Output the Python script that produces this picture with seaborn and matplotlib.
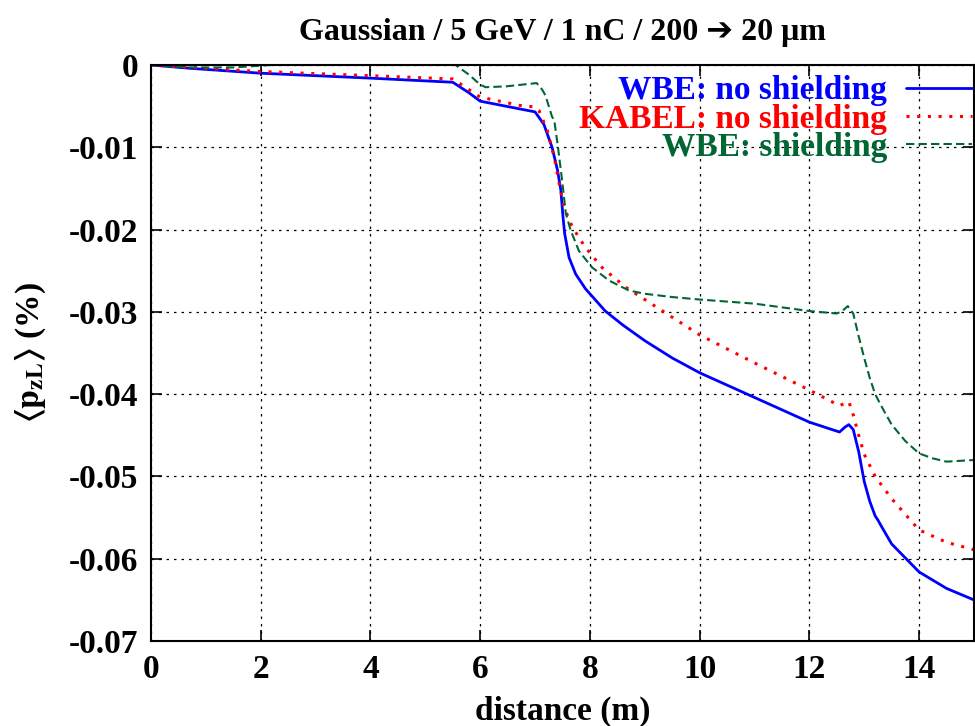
import numpy as np
import pandas as pd
import matplotlib
matplotlib.use('Agg')
import matplotlib.pyplot as plt
import seaborn as sns

# ---- data ----
dist_wbe = [0, 0.7, 2, 4, 5.5, 5.8, 6.0, 7.0, 7.16, 7.31, 7.41, 7.47, 7.51, 7.54, 7.62, 7.74, 7.92, 8.28, 8.6, 9,
            9.5, 10, 11, 12, 12.55, 12.65, 12.72, 12.8, 12.9, 13.0, 13.1, 13.2, 13.25, 13.3, 13.5, 14, 14.5, 15]
pz_wbe = [0, -0.0004, -0.0010, -0.0016, -0.0021, -0.0034, -0.0044, -0.0057, -0.0072, -0.0100, -0.0128, -0.0152,
          -0.0185, -0.0205, -0.0234, -0.0254, -0.0272, -0.0299, -0.0316, -0.0335, -0.0356, -0.0374, -0.0404,
          -0.0434, -0.0446, -0.0440, -0.0437, -0.0443, -0.0470, -0.0506, -0.0530, -0.0548, -0.0553, -0.0559,
          -0.0582, -0.0616, -0.0636, -0.0650]

dist_kabel = [0, 0.7, 2, 4, 5.5, 6.0, 6.71, 7.0, 7.07, 7.22, 7.35, 7.44, 7.53, 7.68, 7.92, 8.22, 8.65, 9, 10, 11,
              12, 12.55, 12.65, 12.72, 12.8, 12.9, 13.0, 13.2, 13.5, 14, 14.5, 15]
pz_kabel = [0, -0.0003, -0.0008, -0.0013, -0.0017, -0.0039, -0.0049, -0.0051, -0.0055, -0.0079, -0.0112, -0.0144,
            -0.0173, -0.0197, -0.0222, -0.0246, -0.0270, -0.0285, -0.0328, -0.0362,
            -0.0395, -0.0414, -0.0411, -0.0409, -0.0425, -0.0450, -0.0473, -0.0500, -0.0527, -0.0565, -0.0580,
            -0.0589]

dist_shield = [0, 0.7, 1.5, 2.2, 4, 5.55, 5.8, 6.0, 6.1, 6.47, 7.03, 7.13, 7.19, 7.31, 7.35, 7.42, 7.5, 7.56, 7.65,
               7.8, 8.04, 8.35, 8.71, 9, 9.5, 10, 11, 12, 12.5, 12.6, 12.7, 12.8, 12.9, 13.0, 13.1, 13.2, 13.3,
               13.5, 13.75, 14, 14.25, 14.5, 14.75, 15]
pz_shield = [0, -0.0003, -0.0003, 0, 0, 0, -0.0012, -0.0024, -0.0027, -0.0026, -0.0022, -0.0030, -0.0037,
             -0.0063, -0.0067, -0.0101, -0.0144, -0.0180, -0.0201, -0.0226, -0.0246, -0.0262, -0.0274,
             -0.0278, -0.0282, -0.0285, -0.0290, -0.0299, -0.0302, -0.0299, -0.0293, -0.0302, -0.0330, -0.0356,
             -0.0380, -0.0400, -0.0413, -0.0437, -0.0457, -0.0472, -0.0478, -0.0482, -0.0481, -0.0480]

labels = ['WBE: no shielding', 'KABEL: no shielding', 'WBE: shielding']
colors = ['#0000ff', '#ff0000', '#006633']

sns.set_style('ticks')
plt.rcParams['font.family'] = ['Liberation Serif', 'DejaVu Sans']
plt.rcParams['font.weight'] = 'bold'
plt.rcParams['mathtext.fontset'] = 'stix'
for k in ['text.color', 'axes.labelcolor', 'xtick.color', 'ytick.color', 'axes.edgecolor']:
    plt.rcParams[k] = 'black'

fig = plt.figure(figsize=(9.75, 7.26), dpi=100)
ax = fig.add_axes([0.1549, 0.117, 0.844, 0.7935])

df1 = pd.DataFrame({'x': dist_wbe, 'y': pz_wbe})
df2 = pd.DataFrame({'x': dist_kabel, 'y': pz_kabel})
df3 = pd.DataFrame({'x': dist_shield, 'y': pz_shield})

sns.lineplot(data=df1, x='x', y='y', ax=ax, color=colors[0], lw=2, label=labels[0])
sns.lineplot(data=df2, x='x', y='y', ax=ax, color=colors[1], lw=2.2, label=labels[1],
             linestyle=(0, (1, 2.5)))
sns.lineplot(data=df3, x='x', y='y', ax=ax, color=colors[2], lw=1.5, label=labels[2],
             linestyle=(0, (4, 2)))

ax.set_xlim(0, 15)
ax.set_ylim(-0.07, 0)
ax.set_xticks(np.arange(0, 15, 2))
ax.set_yticks(np.arange(-0.07, 0.001, 0.01))
ax.set_yticklabels(['-0.07', '-0.06', '-0.05', '-0.04', '-0.03', '-0.02', '-0.01', '0'])
ax.tick_params(direction='in', length=8, width=1.2, top=True, right=True, labelsize=24, pad=9)
for lab in ax.get_xticklabels() + ax.get_yticklabels():
    lab.set_fontweight('bold')
ax.grid(True, color='black', linestyle=(0, (2, 4)), lw=0.9)
for sp in ax.spines.values():
    sp.set_linewidth(1.5)

ax.set_xlabel('distance (m)', fontsize=24, fontweight='bold', labelpad=8)
ax.set_ylabel(r'$\langle\mathbf{p}_{\mathbf{zL}}\rangle$ (%)', fontsize=24, fontweight='bold', labelpad=15)
fig.text(0.577, 0.955, 'Gaussian / 5 GeV / 1 nC / 200 \u2794 20 \u03bcm', ha='center', va='center',
         fontsize=23, fontweight='bold')

leg = ax.legend(loc='upper right', frameon=False, markerfirst=False, fontsize=24, handlelength=2.0,
                labelcolor='linecolor', borderaxespad=0.0, borderpad=0.1, labelspacing=-0.08,
                handletextpad=0.55, bbox_to_anchor=(1.002, 0.988))
for t in leg.get_texts():
    t.set_fontweight('bold')

fig.savefig('out.png', dpi=100)
